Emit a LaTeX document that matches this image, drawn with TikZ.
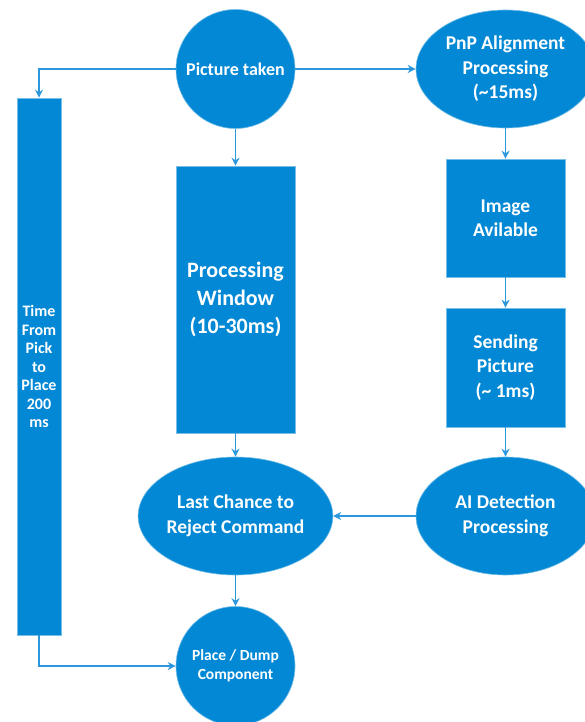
\documentclass[tikz,border=0pt]{standalone}
\usepackage{fontspec}
\setmainfont{Carlito}
\usetikzlibrary{shapes.geometric,arrows.meta}
\definecolor{boxblue}{HTML}{0288D4}
\definecolor{lineblue}{HTML}{2B98DE}
\begin{document}
\begin{tikzpicture}[x=1pt, y=-1pt,
  blob/.style={fill=boxblue, draw=boxblue!55!white, line width=0.6pt, text=white, align=center, inner sep=0pt},
  small/.style={font=\bfseries\fontsize{15.5}{18.5}\selectfont},
  mid/.style={font=\bfseries\fontsize{19.5}{24.5}\selectfont},
  big/.style={font=\bfseries\fontsize{22}{28}\selectfont},
  conn/.style={draw=lineblue, line width=1.2pt, -{Stealth[length=8pt,width=8pt]}}]
  \useasboundingbox (0,0) rectangle (585,722);

  \node[blob, circle, minimum size=119pt, font=\bfseries\fontsize{18}{22}\selectfont] (taken) at (235.5,69) {Picture taken};
  \node[blob, mid, ellipse, minimum width=179pt, minimum height=118pt] (pnp) at (505.5,69) {PnP Alignment\\Processing\\(\textasciitilde15ms)};
  \node[blob, small, minimum width=44pt, minimum height=537pt, font=\bfseries\fontsize{16}{18.5}\selectfont] (timebar) at (39,366.5) {Time\\From\\Pick\\to\\Place\\200\\ms};
  \node[blob, big, minimum width=119pt, minimum height=267pt] (window) at (235.5,299.5) {Processing\\Window\\(10-30ms)};
  \node[blob, mid, minimum width=119pt, minimum height=118pt] (image) at (505.5,218) {Image\\Avilable};
  \node[blob, mid, minimum width=119pt, minimum height=119pt] (sending) at (505.5,367.5) {Sending\\Picture\\(\textasciitilde\ 1ms)};
  \node[blob, mid, ellipse, minimum width=179pt, minimum height=118pt] (ai) at (505.5,516) {AI Detection\\Processing};
  \node[blob, mid, ellipse, minimum width=179pt, minimum height=118pt] (last) at (235.5,516) {Last Chance to\\Reject Command};
  \node[blob, small, circle, minimum size=119pt] (place) at (235.5,666) {Place / Dump\\Component};

  \draw[conn] (taken) -- (pnp);
  \draw[conn] (taken.west) -| (timebar.north); % to the time bar
  \draw[conn] (taken) -- (window);
  \draw[conn] (pnp) -- (image);
  \draw[conn] (image) -- (sending);
  \draw[conn] (sending) -- (ai);
  \draw[conn] (ai) -- (last);
  \draw[conn] (window) -- (last);
  \draw[conn] (last) -- (place);
  \draw[conn] (timebar.south) |- (place.west);
\end{tikzpicture}
\end{document}
